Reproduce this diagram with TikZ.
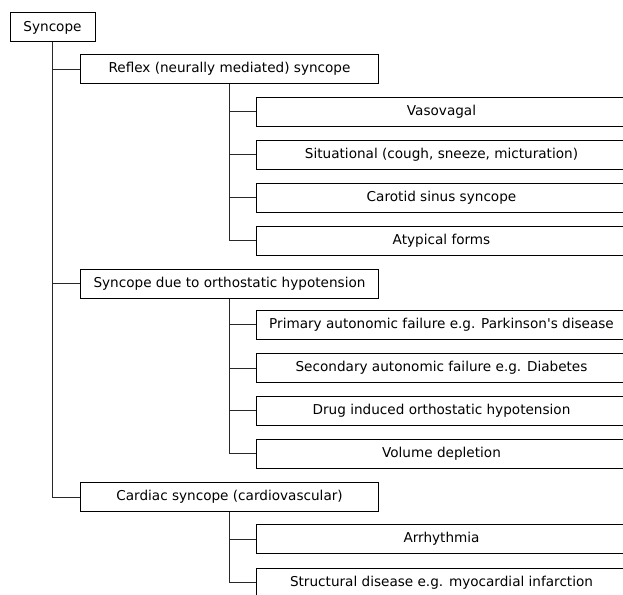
\documentclass[tikz,border=0pt]{standalone}
\usepackage{fontspec}
\setmainfont{DejaVu Sans}
\usepackage{tikz}
\usetikzlibrary{positioning, calc}
\definecolor{linegray}{RGB}{40, 40, 40}

\tikzset{
	box/.style={draw=black, line width=1pt, fill=white, inner sep=0pt,
		font=\fontsize{13.6}{15}\selectfont},
	rootbox/.style={box, minimum width=85pt, minimum height=29pt},
	groupbox/.style={box, anchor=west, minimum width=298pt, minimum height=29pt},
	leafbox/.style={box, anchor=west, minimum width=370pt, minimum height=29pt},
	link/.style={draw=linegray, line width=1pt}
}

\begin{document}
\begin{tikzpicture}[x=1pt, y=-1pt]
	\clip (0,0) rectangle (623,594);
	\fill[white] (0,0) rectangle (623,594);

	% root and the three groups
	\node[rootbox] (root) at (52.5,27.5) {Syncope};
	\node[groupbox] (reflex) at (80,69) {Reflex (neurally mediated) syncope};
	\node[groupbox] (ortho) at (80,283.5) {Syncope due to orthostatic hypotension};
	\node[groupbox] (cardiac) at (80,497) {Cardiac syncope (cardiovascular)};

	% reflex leaves
	\node[leafbox] (vaso) at (256,111.5) {Vasovagal};
	\node[leafbox] (situ) at (256,154.5) {Situational (cough, sneeze, micturation)};
	\node[leafbox] (carotid) at (256,197.5) {Carotid sinus syncope};
	\node[leafbox] (atyp) at (256,240.5) {Atypical forms};

	% orthostatic leaves
	\node[leafbox] (primary) at (256,324.5) {Primary autonomic failure e.g. Parkinson\textquotesingle s disease};
	\node[leafbox] (second) at (256,368) {Secondary autonomic failure e.g. Diabetes};
	\node[leafbox] (drug) at (256,410.5) {Drug induced orthostatic hypotension};
	\node[leafbox] (volume) at (256,453.5) {Volume depletion};

	% cardiac leaves
	\node[leafbox] (arrhy) at (256,539) {Arrhythmia};
	\node[leafbox] (struct) at (256,582.5) {Structural disease e.g. myocardial infarction};

	% connectors
	\foreach \g in {reflex, ortho, cardiac}
		\draw[link] (root.south) |- (\g.west);
	\foreach \l in {vaso, situ, carotid, atyp}
		\draw[link] (reflex.south) |- (\l.west);
	\foreach \l in {primary, second, drug, volume}
		\draw[link] (ortho.south) |- (\l.west);
	\foreach \l in {arrhy, struct}
		\draw[link] (cardiac.south) |- (\l.west);
\end{tikzpicture}
\end{document}
